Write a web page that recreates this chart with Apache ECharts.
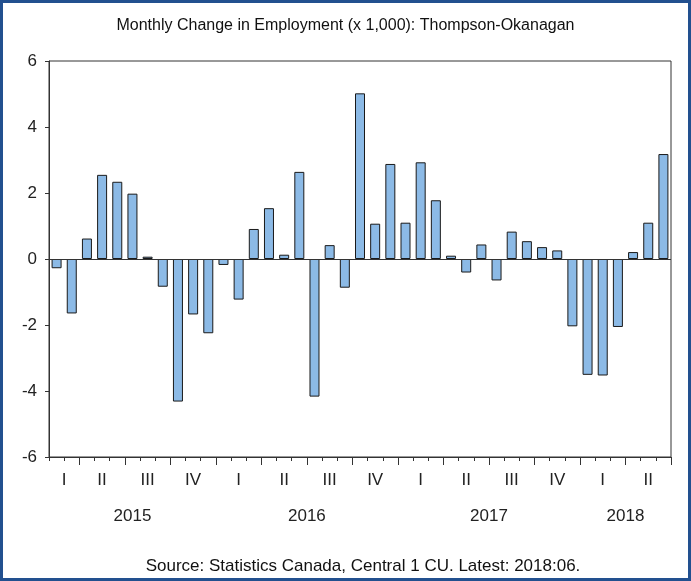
<!DOCTYPE html>
<html>
<head>
<meta charset="utf-8">
<script src="https://cdn.jsdelivr.net/npm/echarts@6/dist/echarts.min.js"></script>
<style>
  html, body { margin: 0; padding: 0; background: #fff; }
  #chart { width: 691px; height: 581px; }
</style>
</head>
<body>
<div id="chart"></div>
<script>
// monthly change, Feb 2015 .. Jun 2018
const months = [];
for (let y = 2015, m = 2; y < 2018 || m <= 6; m++) {
  if (m > 12) { m = 1; y++; }
  months.push(y + '-' + String(m).padStart(2, '0'));
}
const values = [
  -0.28, -1.65, 0.62, 2.55, 2.34, 1.98, 0.07, -0.84, -4.32, -1.68, -2.25,
  -0.18, -1.23, 0.91, 1.54, 0.13, 2.64, -4.17, 0.42, -0.87, 5.02, 1.07, 2.88,
  1.10, 2.93, 1.78, 0.10, -0.41, 0.44, -0.65, 0.83, 0.54, 0.36, 0.26, -2.04,
  -3.51, -3.53, -2.06, 0.21, 1.10, 3.18
];
const quarterLabels = ['I', 'II', 'III', 'IV', 'I', 'II', 'III', 'IV', 'I', 'II', 'III', 'IV', 'I', 'II'];
const quarterPos = [1, 3.5, 6.5, 9.5, 12.5, 15.5, 18.5, 21.5, 24.5, 27.5, 30.5, 33.5, 36.5, 39.5];
const yearLabels = ['2015', '2016', '2017', '2018'];
const yearPos = [5.5, 17, 29, 38];
const yTicks = { min: -6, max: 6, step: 2 };

const font = 'Liberation Sans, Arial, sans-serif';
const axisColor = '#333';

function posLabel(pos, labels) {
  return function (v) {
    const i = pos.findIndex(p => Math.abs(p - v) < 1e-6);
    return i >= 0 ? labels[i] : '';
  };
}

const labelAxis = (pos, labels, margin) => ({
  type: 'value',
  position: 'bottom',
  min: 0,
  max: months.length,
  interval: 0.5,
  axisLine: { show: false, onZero: false },
  axisTick: { show: false },
  splitLine: { show: false },
  axisLabel: {
    margin: margin,
    fontFamily: font,
    fontSize: 17,
    color: '#222',
    formatter: posLabel(pos, labels)
  }
});

const chart = echarts.init(document.getElementById('chart'));
chart.setOption({
  animation: false,
  textStyle: { fontFamily: font },
  title: [
    {
      text: 'Monthly Change in Employment (x 1,000): Thompson-Okanagan',
      left: 'center',
      top: 13,
      textStyle: { fontSize: 16, fontWeight: 'normal', color: '#111', fontFamily: font }
    },
    {
      text: 'Source: Statistics Canada, Central 1 CU. Latest: 2018:06.',
      left: 358,
      textAlign: 'center',
      top: 553,
      textStyle: { fontSize: 17, fontWeight: 'normal', color: '#111', fontFamily: font }
    }
  ],
  graphic: [{
    type: 'rect',
    shape: { x: 1.5, y: 1.5, width: 688, height: 578 },
    style: { fill: 'none', stroke: '#22508f', lineWidth: 3 },
    silent: true
  }],
  grid: {
    left: 49, right: 20, top: 61, bottom: 124,
    show: true, borderColor: axisColor, borderWidth: 1
  },
  xAxis: [
    {
      type: 'category',
      data: months,
      boundaryGap: true,
      axisLine: { show: true, onZero: false, lineStyle: { color: axisColor } },
      axisTick: { show: true, interval: 0, length: 4, lineStyle: { color: axisColor, width: 1 } },
      axisLabel: { show: false }
    },
    {
      type: 'category',
      data: months,
      position: 'bottom',
      boundaryGap: true,
      axisLine: { show: false, onZero: false },
      axisTick: {
        show: true,
        interval: (i) => (i + 1) % 3 === 0,
        length: 8,
        lineStyle: { color: axisColor, width: 1 }
      },
      axisLabel: { show: false }
    },
    labelAxis(quarterPos, quarterLabels, 15),
    labelAxis(yearPos, yearLabels, 51)
  ],
  yAxis: {
    type: 'value',
    min: yTicks.min,
    max: yTicks.max,
    interval: yTicks.step,
    axisLine: { show: true, onZero: false, lineStyle: { color: axisColor } },
    axisTick: { show: true, length: 4, lineStyle: { color: axisColor } },
    splitLine: { show: false },
    axisLabel: { fontSize: 17, color: '#222', margin: 12, fontFamily: font }
  },
  series: [{
    type: 'bar',
    data: values,
    barWidth: 10,
    itemStyle: { color: '#8cbae6', borderColor: '#1a1a1a', borderWidth: 1 },
    markLine: {
      silent: true,
      symbol: 'none',
      label: { show: false },
      lineStyle: { color: '#333', width: 1, type: 'solid' },
      data: [{ yAxis: 0 }]
    }
  }]
});
</script>
</body>
</html>
